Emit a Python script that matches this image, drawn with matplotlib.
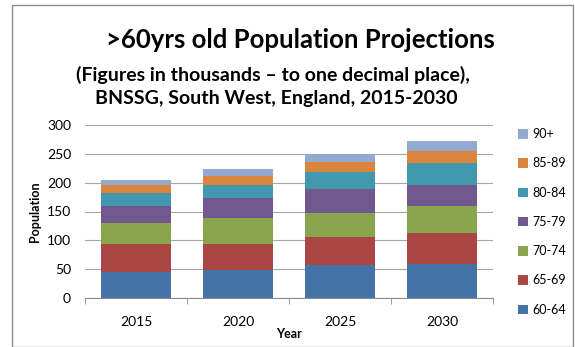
import matplotlib.pyplot as plt
import numpy as np
from matplotlib.patches import Rectangle

years = ['2015', '2020', '2025', '2030']
age_groups = ['60-64', '65-69', '70-74', '75-79', '80-84', '85-89', '90+']

# population in thousands per age band, one list per year column
pop_60_64 = [45.0, 49.0, 57.1, 58.3]
pop_65_69 = [48.5, 44.5, 49.1, 54.8]
pop_70_74 = [37.0, 45.0, 41.5, 45.6]
pop_75_79 = [29.4, 34.6, 41.6, 37.5]
pop_80_84 = [22.5, 23.7, 28.8, 37.5]
pop_85_89 = [13.3, 15.5, 18.5, 20.8]
pop_90_plus = [9.2, 12.2, 13.8, 17.9]

series = [pop_60_64, pop_65_69, pop_70_74, pop_75_79, pop_80_84, pop_85_89, pop_90_plus]
colors = ['#4572A7', '#AA4643', '#89A54E', '#71588F', '#4198AF', '#DB843D', '#93A9CF']

plt.rcParams['font.family'] = ['Lato', 'DejaVu Sans']

fig = plt.figure(figsize=(5.75, 3.47), dpi=100)
fig.patches.append(Rectangle((0.021, 0.0), 0.975, 0.985, transform=fig.transFigure,
                             fill=False, edgecolor='#8c8c8c', linewidth=1.0))

ax = fig.add_axes([85 / 575, 1 - 298 / 347, (493 - 85) / 575, (298 - 125) / 347])

x = np.arange(len(years))
bottom = np.zeros(len(years))
handles = []
for vals, col, lab in zip(series, colors, age_groups):
    h = ax.bar(x, vals, width=0.68, bottom=bottom, color=col, label=lab, zorder=3)
    handles.append(h)
    bottom += np.array(vals)

ax.set_xlim(-0.5, 3.5)
ax.set_ylim(0, 300)
ax.set_yticks(range(0, 301, 50))
ax.yaxis.grid(True, color='#a6a6a6', linewidth=0.8, zorder=0)
ax.set_xticks(x)
ax.set_xticklabels(years, fontsize=10)
ax.set_xticks(np.arange(-0.5, 4, 1), minor=True)
ax.tick_params(axis='x', which='major', length=0, pad=13)
ax.tick_params(axis='x', which='minor', length=4, color='#8c8c8c')
ax.tick_params(axis='y', length=0, labelsize=10, pad=10)
for side in ['top', 'right', 'left']:
    ax.spines[side].set_visible(False)
ax.spines['bottom'].set_color('#8c8c8c')

ax.set_ylabel('Population', fontsize=9, fontweight='bold', labelpad=4)
ax.set_xlabel('Year', fontsize=9, fontweight='bold', labelpad=0)

fig.text(0.522, 0.885, '>60yrs old Population Projections', ha='center', va='center',
         fontsize=18.5, fontweight='bold')
fig.text(0.475, 0.784, '(Figures in thousands \u2013 to one decimal place),', ha='center',
         va='center', fontsize=14, fontweight='bold')
fig.text(0.48, 0.716, 'BNSSG, South West, England, 2015-2030', ha='center',
         va='center', fontsize=14, fontweight='bold')

fig.legend(handles[::-1], age_groups[::-1], loc='upper left', bbox_to_anchor=(0.893, 0.645),
           frameon=False, fontsize=9, handlelength=0.8, handleheight=0.8,
           handletextpad=0.3, labelspacing=1.38, borderaxespad=0)

fig.savefig('out.png', dpi=100)
